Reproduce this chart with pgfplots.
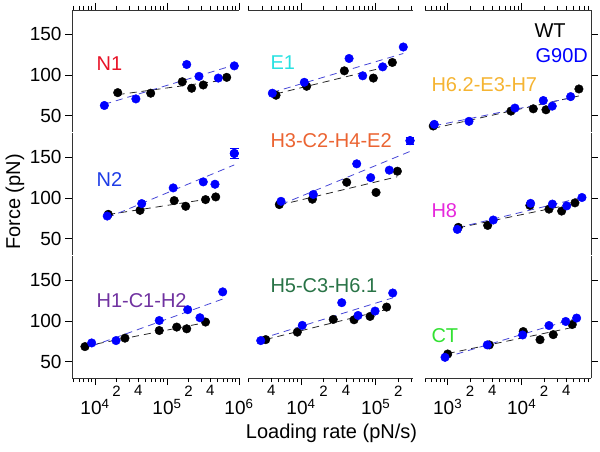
\documentclass[border=0pt]{standalone}
\usepackage{pgfplots}
\pgfplotsset{compat=1.18}
\usepackage{pgfplotstable}
\usepackage{fontspec}
\setmainfont{Liberation Sans}

\definecolor{cNone}{RGB}{232,20,40}
\definecolor{cEone}{RGB}{40,225,225}
\definecolor{cHsev}{RGB}{245,180,50}
\definecolor{cNtwo}{RGB}{30,60,230}
\definecolor{cHthr}{RGB}{235,100,50}
\definecolor{cHeig}{RGB}{230,40,220}
\definecolor{cHone}{RGB}{112,50,160}
\definecolor{cHfiv}{RGB}{40,115,70}
\definecolor{cCT}{RGB}{50,225,50}
\definecolor{fitblue}{RGB}{70,70,215}

% ---- data: loading rate (pN/s), force (pN) ----
\pgfplotstableread{
x F
2.07e4 78.4
5.94e4 77.7
1.63e5 91.8
2.2e5 83.8
3.19e5 87.8
6.75e5 97.2
}\NOneWT
\pgfplotstableread{
x F
1.35e4 62.6
3.7e4 70.7
1.88e5 113
2.78e5 98.4
5.16e5 96.3
8.6e5 111.3
}\NOneMut
\pgfplotstableread{
x F
4.63e3 75.2
1.19e4 86.2
3.8e4 105.2
9.3e4 96.3
1.67e5 115.5
}\EOneWT
\pgfplotstableread{
x F
4.13e3 77.7
1.107e4 91.1
4.4e4 120.4
6.7e4 99.1
1.24e5 110.1
2.34e5 134.5
}\EOneMut
\pgfplotstableread{
x F
638 37.4
7.16e3 55.7
1.435e4 58.5
2.13e4 57.3
5.94e4 82.9
}\HSevWT
\pgfplotstableread{
x F
659 39.4
1940 43.1
8.1e3 59.4
1.96e4 68.7
2.59e4 61.8
4.59e4 73.5
}\HSevMut
\pgfplotstableread{
x F
1.53e4 80
4.22e4 84.9
1.26e5 96.9
1.82e5 89.9
3.43e5 98.1
4.75e5 101.4
}\NTwoWT
\pgfplotstableread{
x F
1.48e4 77.9
4.46e4 93.2
1.22e5 112.5
3.19e5 119.9
4.64e5 117
8.6e5 154.9
}\NTwoMut
\pgfplotstableread{
x F
5.12e3 92
1.42e4 98.6
4.09e4 119.4
1.01e5 106.9
1.95e5 133
}\HThrWT
\pgfplotstableread{
x F
5.4e3 96
1.46e4 104.4
5.57e4 142.1
8.57e4 125.1
1.52e5 134.3
2.88e5 170.6
}\HThrMut
\pgfplotstableread{
x F
1.39e3 64
3.47e3 66.4
1.29e4 91
2.34e4 86.4
3.47e4 84
5.25e4 94.1
}\HEigWT
\pgfplotstableread{
x F
1.35e3 61.5
4.13e3 73
1.32e4 93.5
2.6e4 92.6
4.06e4 90.4
6.53e4 100.7
}\HEigMut
\pgfplotstableread{
x F
7.26e3 68.6
2.61e4 79
7.81e4 88.4
1.365e5 92.6
1.88e5 90.5
3.43e5 98.8
}\HOneWT
\pgfplotstableread{
x F
9.0e3 73.1
1.96e4 76
7.81e4 100.7
1.94e5 114
2.87e5 104.1
5.94e5 135.9
}\HOneMut
\pgfplotstableread{
x F
3.37e3 77.2
8.92e3 86.4
2.7e4 102
5.13e4 101.6
8.4e4 105.7
1.4e5 117.2
}\HFivWT
\pgfplotstableread{
x F
2.89e3 76
1.04e4 94.7
3.51e4 122.6
5.8e4 106.9
9.8e4 112.3
1.69e5 134.5
}\HFivMut
\pgfplotstableread{
x F
1000 59.5
3.65e3 70.7
1.05e4 87.1
1.77e4 77.1
2.67e4 83.3
4.83e4 95.8
}\CTWT
\pgfplotstableread{
x F
920 55.4
3.43e3 70.7
1.03e4 82.9
2.34e4 94.5
3.94e4 99.5
5.53e4 103.7
}\CTMut

% straight-line fit of force against log10(rate), column "fit"
\newcommand{\addfit}[1]{%
  \pgfplotstablecreatecol[expr={log10(\thisrow{x})}]{lx}{#1}%
  \pgfplotstablecreatecol[linear regression={x=lx, y=F}]{fit}{#1}}
\addfit\NOneWT \addfit\NOneMut \addfit\EOneWT \addfit\EOneMut
\addfit\HSevWT \addfit\HSevMut \addfit\NTwoWT \addfit\NTwoMut
\addfit\HThrWT \addfit\HThrMut \addfit\HEigWT \addfit\HEigMut
\addfit\HOneWT \addfit\HOneMut \addfit\HFivWT \addfit\HFivMut
\addfit\CTWT \addfit\CTMut

\tikzset{plabel/.style={anchor=base west, font=\fontsize{20}{24}\selectfont}}

\pgfplotsset{
  panel/.style={
    scale only axis, height=122pt, ymin=30, ymax=180,
    clip=false, tick align=outside,
    major tick length=7pt, minor tick length=4pt,
    tick style={black, line width=0.7pt},
    axis line style={line width=0.8pt, black!80},
    ytick={50,100,150},
    yticklabel style={/pgf/number format/assume math mode=true},
    tick label style={font=\fontsize{19}{22}\selectfont},
  },
  col1/.style={xmin=4.8e3, xmax=1e6, width=167pt,
    xtick={1e4,1e5,1e6},
    minor xtick={5e3,6e3,7e3,8e3,9e3,2e4,3e4,4e4,5e4,6e4,7e4,8e4,9e4,2e5,3e5,4e5,5e5,6e5,7e5,8e5,9e5},
    axis y line*=left},
  col2/.style={xmin=1952, xmax=3.157e5, width=165pt,
    xtick={1e4,1e5},
    minor xtick={2e3,3e3,4e3,5e3,6e3,7e3,8e3,9e3,2e4,3e4,4e4,5e4,6e4,7e4,8e4,9e4,2e5,3e5},
    axis y line=none, ytick=\empty},
  col3/.style={xmin=493.5, xmax=8.65e4, width=166pt,
    xtick={1e3,1e4},
    minor xtick={5e2,6e2,7e2,8e2,9e2,2e3,3e3,4e3,5e3,6e3,7e3,8e3,9e3,2e4,3e4,4e4,5e4,6e4,7e4,8e4},
    axis y line*=right, yticklabels={}},
  row1/.style={axis x line*=top, xticklabels={}},
  row2/.style={axis x line=none, xtick=\empty, minor xtick={}, xticklabels={}},
  row3/.style={axis x line*=bottom,
    extra x tick style={major tick length=4pt,
      tick label style={font=\fontsize{15}{17}\selectfont}}},
  wt/.style={only marks, mark=*, mark size=4.3pt, black},
  mut/.style={only marks, mark=*, mark size=4.3pt, blue},
  wtfit/.style={no marks, black!85, line width=0.8pt, dash pattern=on 7pt off 5pt},
  mutfit/.style={no marks, fitblue, line width=0.8pt, dash pattern=on 7pt off 5pt},
}

\newcommand{\fits}[2]{%
  \addplot[wtfit] table[x=x, y=fit] {#1};
  \addplot[mutfit] table[x=x, y=fit] {#2};
  \addplot[wt] table[x=x, y=F] {#1};
  \addplot[mut] table[x=x, y=F] {#2};
}

\begin{document}
\begin{tikzpicture}

% ---- row 1 ----
\begin{semilogxaxis}[panel, col1, row1, at={(72pt,441pt)}, anchor=north west]
\fits{\NOneWT}{\NOneMut}
\node[plabel, text=cNone] at (rel axis cs:0.126,0.504) {N1};
\end{semilogxaxis}

\begin{semilogxaxis}[panel, col2, row1, at={(248pt,441pt)}, anchor=north west]
\fits{\EOneWT}{\EOneMut}
\node[plabel, text=cEone] at (rel axis cs:0.115,0.512) {E1};
\end{semilogxaxis}

\begin{semilogxaxis}[panel, col3, row1, at={(425pt,441pt)}, anchor=north west]
\fits{\HSevWT}{\HSevMut}
\node[plabel, text=black] at (rel axis cs:0.639,0.772) {WT};
\node[plabel, text=blue] at (rel axis cs:0.645,0.569) {G90D};
\node[plabel, text=cHsev] at (rel axis cs:0.018,0.333) {H6.2-E3-H7};
\end{semilogxaxis}

% ---- row 2 ----
\begin{semilogxaxis}[panel, col1, row2, at={(72pt,318pt)}, anchor=north west]
\fits{\NTwoWT}{\NTwoMut}
\addplot[mut, error bars/.cd, y dir=both, y explicit,
  error bar style={blue, line width=0.8pt}] coordinates {(8.6e5,154.9) +- (0,6)};
\node[plabel, text=cNtwo] at (rel axis cs:0.126,0.561) {N2};
\end{semilogxaxis}

\begin{semilogxaxis}[panel, col2, row2, at={(248pt,318pt)}, anchor=north west]
\fits{\HThrWT}{\HThrMut}
\addplot[mut, error bars/.cd, y dir=both, y explicit,
  error bar style={blue, line width=0.8pt}] coordinates {(2.88e5,170.6) +- (0,4)};
\node[plabel, text=cHthr] at (rel axis cs:0.115,0.878) {H3-C2-H4-E2};
\end{semilogxaxis}

\begin{semilogxaxis}[panel, col3, row2, at={(425pt,318pt)}, anchor=north west]
\fits{\HEigWT}{\HEigMut}
\node[plabel, text=cHeig] at (rel axis cs:0.018,0.309) {H8};
\end{semilogxaxis}

% ---- row 3 ----
\begin{semilogxaxis}[panel, col1, row3, at={(72pt,195pt)}, anchor=north west,
  xticklabels={\rule{0pt}{26pt}10\textsuperscript{4},\rule{0pt}{26pt}10\textsuperscript{5},\rule{0pt}{26pt}10\textsuperscript{6}},
  extra x ticks={2e4,4e4,2e5,4e5}, extra x tick labels={2,4,2,4}]
\fits{\HOneWT}{\HOneMut}
\node[plabel, text=cHone] at (rel axis cs:0.126,0.577) {H1-C1-H2};
\end{semilogxaxis}

\begin{semilogxaxis}[panel, col2, row3, at={(248pt,195pt)}, anchor=north west,
  xticklabels={\rule{0pt}{26pt}10\textsuperscript{4},\rule{0pt}{26pt}10\textsuperscript{5}},
  extra x ticks={4e3,2e4,4e4,2e5}, extra x tick labels={4,2,4,2}]
\fits{\HFivWT}{\HFivMut}
\node[plabel, text=cHfiv] at (rel axis cs:0.115,0.699) {H5-C3-H6.1};
\end{semilogxaxis}

\begin{semilogxaxis}[panel, col3, row3, at={(425pt,195pt)}, anchor=north west,
  xticklabels={\rule{0pt}{26pt}10\textsuperscript{3},\rule{0pt}{26pt}10\textsuperscript{4}},
  extra x ticks={2e3,4e3,2e4,4e4}, extra x tick labels={2,4,2,4}]
\fits{\CTWT}{\CTMut}
\node[plabel, text=cCT] at (rel axis cs:0.018,0.293) {CT};
\end{semilogxaxis}

% axis titles
\node[font=\fontsize{20}{24}\selectfont] at (331.5pt,18pt) {Loading rate (pN/s)};
\node[font=\fontsize{20}{24}\selectfont, rotate=90] at (15pt,249pt) {Force (pN)};

\pgfresetboundingbox
\useasboundingbox (0pt,0pt) rectangle (600pt,451pt);
\end{tikzpicture}
\end{document}
